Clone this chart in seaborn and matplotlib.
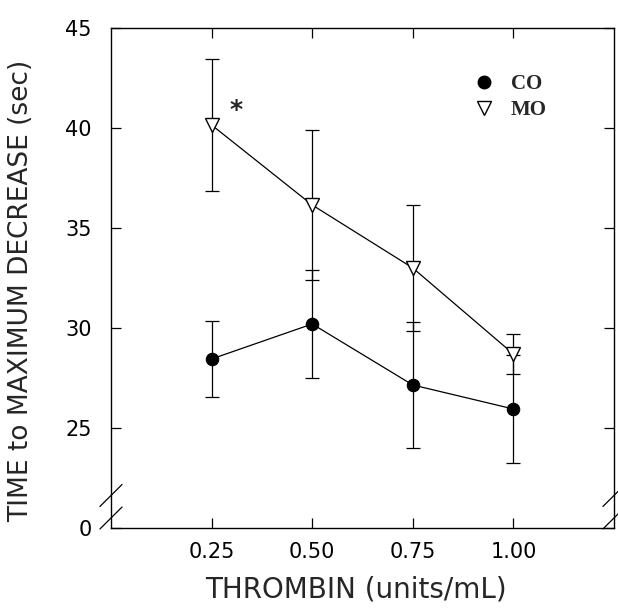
import pandas as pd
import seaborn as sns
import matplotlib.pyplot as plt
from matplotlib.lines import Line2D

# valores
thrombin = [0.25, 0.50, 0.75, 1.00]
co_mean = [28.45, 30.2, 27.15, 25.95]
co_err = [1.9, 2.7, 3.15, 2.7]
mo_mean = [40.15, 36.15, 33.0, 28.7]
mo_err = [3.3, 3.75, 3.15, 1.0]

y_ticks = [20, 25, 30, 35, 40, 45]
y_tick_labels = ['0', '25', '30', '35', '40', '45']
x_ticks = [0.25, 0.50, 0.75, 1.00]
x_tick_labels = ['0.25', '0.50', '0.75', '1.00']

dados = pd.concat([
    pd.DataFrame({'dose': thrombin, 'tempo': co_mean, 'erro': co_err, 'grupo': 'CO'}),
    pd.DataFrame({'dose': thrombin, 'tempo': mo_mean, 'erro': mo_err, 'grupo': 'MO'}),
], ignore_index=True)

sns.set_style('ticks')
plt.rcParams['font.family'] = ['DejaVu Sans']

fig = plt.figure(figsize=(6.18, 6.08), dpi=100)
ax = fig.add_axes([0.1796, 0.1316, 0.8139, 0.8224])

estilos = {
    'CO': dict(marker='o', markersize=9, markerfacecolor='black', markeredgecolor='black'),
    'MO': dict(marker='v', markersize=10, markerfacecolor='white', markeredgecolor='black', markeredgewidth=1.0),
}

############ barras de erro
for grupo, sub in dados.groupby('grupo'):
    ax.errorbar(sub['dose'], sub['tempo'], yerr=sub['erro'], fmt='none',
                ecolor='black', elinewidth=0.9, capsize=5, capthick=0.9, zorder=2)

############ linhas e marcadores
for grupo in ['CO', 'MO']:
    sub = dados[dados['grupo'] == grupo]
    sns.lineplot(data=sub, x='dose', y='tempo', ax=ax, color='black',
                 linewidth=0.9, zorder=3, **estilos[grupo])

ax.text(0.31, 40.9, '*', fontsize=18, fontweight='bold', ha='center', va='center')

############ legenda
handles = [Line2D([], [], linestyle='none', **estilos[g]) for g in ['CO', 'MO']]
ax.legend(handles, ['CO', 'MO'], loc='upper left', bbox_to_anchor=(0.662, 0.945),
          frameon=False, handletextpad=0.3, labelspacing=0.3,
          prop={'family': 'Liberation Serif', 'size': 15, 'weight': 'bold'})

############ eixos
ax.set_xlim(0, 1.25)
ax.set_ylim(20, 45)
ax.set_xticks(x_ticks)
ax.set_xticklabels(x_tick_labels)
ax.set_yticks(y_ticks)
ax.set_yticklabels(y_tick_labels)
ax.tick_params(direction='in', length=7, width=0.9, top=True, right=True,
               labelsize=15, colors='black')
ax.tick_params(axis='y', pad=14)
ax.tick_params(axis='x', pad=10)
for s in ax.spines.values():
    s.set_linewidth(1.0)
    s.set_color('black')

ax.set_xlabel('THROMBIN (units/mL)', fontsize=20)
ax.set_ylabel('TIME to MAXIMUM DECREASE (sec)', fontsize=19)
ax.xaxis.set_label_coords(0.487, -0.095)
ax.yaxis.set_label_coords(-0.152, 0.475)

############ quebra do eixo y
for xs in [0.0, 1.0]:
    for yb in [0.02, 0.065]:
        ax.plot([xs - 0.022, xs + 0.022], [yb - 0.022, yb + 0.022],
                transform=ax.transAxes, color='black', linewidth=0.9, clip_on=False)

plt.savefig('out.png', dpi=100)
